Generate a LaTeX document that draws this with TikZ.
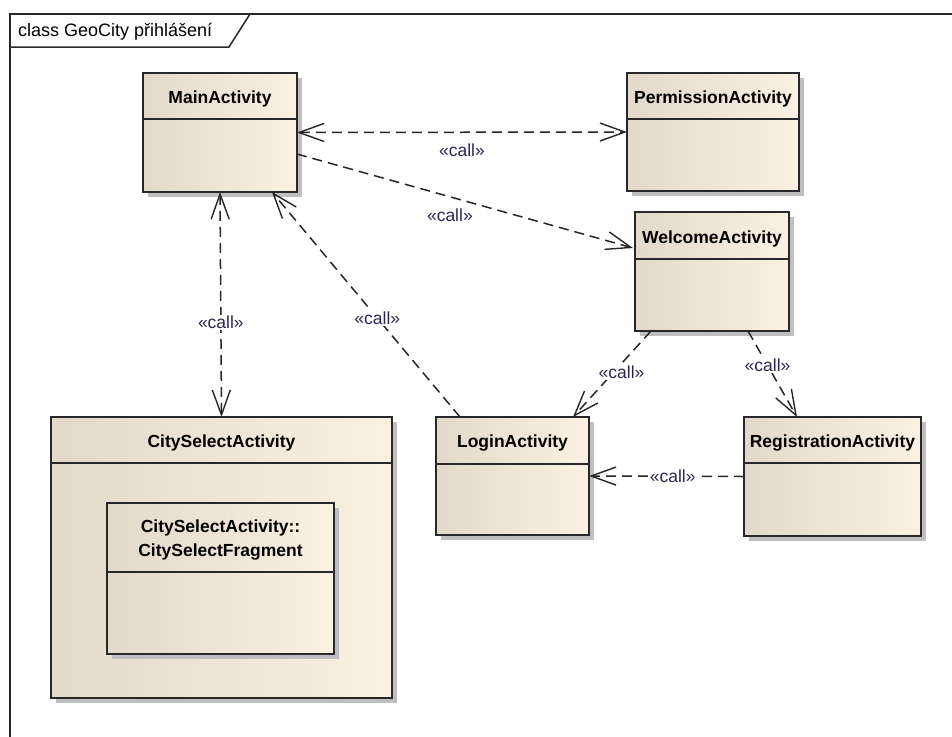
\documentclass[tikz,border=0pt]{standalone}
\usepackage{fontspec}
\setmainfont{Liberation Sans}
\usetikzlibrary{positioning,calc,arrows.meta,shadows}

\definecolor{boxleft}{RGB}{226,217,202}
\definecolor{boxright}{RGB}{251,241,226}
\definecolor{boxline}{RGB}{40,40,40}
\definecolor{calltext}{RGB}{45,38,85}

\newcommand{\umlclass}[7]{%
  \node[classbox, minimum width=#4pt, minimum height=#5pt, anchor=north west] (#1) at (#2,#3) {};
  \draw[divider] ($(#1.north west)+(0,#6)$) -- ($(#1.north east)+(0,#6)$);
  \node[classname] (#1-name) at ($(#1.north)+(0,#6/2+3)$) {#7};
}

\begin{document}
\begin{tikzpicture}[x=1pt,y=-1pt,
    classbox/.style={rectangle,draw=boxline,line width=2pt,outer sep=0pt,inner sep=0pt,
      left color=boxleft,right color=boxright,
      drop shadow={shadow xshift=5pt,shadow yshift=-5pt,fill=black!25,opacity=1}},
    divider/.style={draw=boxline,line width=1.5pt},
    classname/.style={font=\fontsize{17.5}{24}\selectfont\bfseries,align=center,inner sep=0pt},
    call/.style={draw=black!85,line width=1.5pt,dash pattern=on 10pt off 6pt,
      -{Straight Barb[length=25pt,width=18pt,line width=1.4pt]}},
    callboth/.style={call,{Straight Barb[length=25pt,width=18pt,line width=1.4pt]}-{Straight Barb[length=25pt,width=18pt,line width=1.4pt]}},
    calllbl/.style={font=\fontsize{17.5}{20}\selectfont,text=calltext,fill=white,inner sep=1.5pt}]
\useasboundingbox (0,0) rectangle (952,736);
\fill[white] (0,0) rectangle (952,736);
\clip (0,0) rectangle (952,736);

% frame
\draw[draw=boxline,line width=1.5pt] (10,760) |- (970,14);
\draw[draw=boxline,line width=1.5pt] (10,47) -- (229,47) -- (250,14);
\node[font=\fontsize{18}{20}\selectfont,anchor=west,inner sep=0pt] (title) at (18,32) {class GeoCity přihlášení};

% classes
\umlclass{main}{143}{73}{154}{119}{46}{MainActivity}
\umlclass{perm}{627}{73}{172}{118}{46}{PermissionActivity}
\umlclass{welcome}{635}{212}{154}{119}{47}{WelcomeActivity}
\umlclass{login}{436}{417}{153}{118}{47}{LoginActivity}
\umlclass{reg}{744}{417}{177}{119}{46}{RegistrationActivity}
\umlclass{city}{51}{417}{341}{281}{46}{CitySelectActivity}
\umlclass{frag}{107}{503}{227}{151}{69}{CitySelectActivity::\\CitySelectFragment}

% dependencies
\draw[callboth] (main.east) -- (perm.west)
  node[calllbl,pos=0.5,yshift=-18pt] (lblperm) {«call»};
\draw[call] ($(main.north east)+(0,81)$) -- ($(welcome.north west)+(-2,36)$)
  node[calllbl,pos=0.455,yshift=-18pt,fill=none] (lblwel) {«call»};
\draw[callboth] (main.south) -- (city.north)
  node[calllbl,pos=0.58] (lblcity) {«call»};
\draw[call] ($(login.north west)+(24,0)$) -- ($(main.south east)+(-25,0)$)
  node[calllbl,pos=0.44] (lbllogmain) {«call»};
\draw[call] ($(welcome.south west)+(16,0)$) -- ($(login.north east)+(-16,0)$)
  node[calllbl,pos=0.48,xshift=8pt] (lblwellog) {«call»};
\draw[call] ($(welcome.south east)+(-41,0)$) -- ($(reg.north west)+(53,0)$)
  node[calllbl,pos=0.40] (lblwelreg) {«call»};
\draw[call] (reg.west) -- (login.east)
  node[calllbl,pos=0.46] (lblreglog) {«call»};
\end{tikzpicture}
\end{document}
